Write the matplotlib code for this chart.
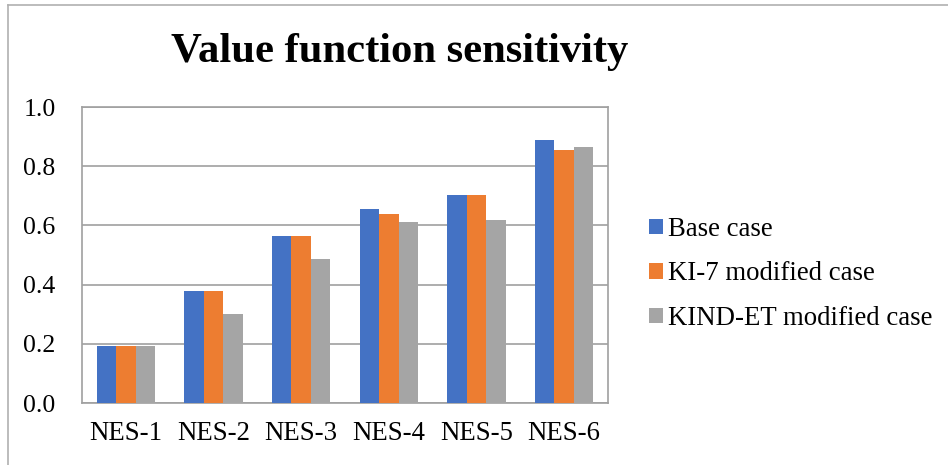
import matplotlib.pyplot as plt
from matplotlib.lines import Line2D
import numpy as np

categories = ['NES-1', 'NES-2', 'NES-3', 'NES-4', 'NES-5', 'NES-6']
base_case = [0.194, 0.378, 0.564, 0.655, 0.702, 0.887]
ki7_case = [0.194, 0.378, 0.564, 0.640, 0.702, 0.856]
kindet_case = [0.194, 0.300, 0.487, 0.613, 0.617, 0.864]
series_names = ['Base case', 'KI-7 modified case', 'KIND-ET modified case']

plt.rcParams['font.family'] = ['Liberation Serif', 'DejaVu Serif']

fig = plt.figure(figsize=(9.48, 4.65), dpi=100)
ax = fig.add_axes([82 / 948, 62 / 465, 526 / 948, 296 / 465])

colors = ['#4472C4', '#ED7D31', '#A5A5A5']
x = np.arange(len(categories))
w = 0.222
for i, (vals, name) in enumerate(zip([base_case, ki7_case, kindet_case], series_names)):
    ax.bar(x + (i - 1) * w, vals, width=w, color=colors[i], label=name, zorder=3)

ax.set_xlim(-0.5, len(categories) - 0.5)
ax.set_ylim(0, 1.0)
ax.set_yticks(np.arange(0, 1.01, 0.2))
ax.set_yticklabels([f'{v:.1f}' for v in np.arange(0, 1.01, 0.2)])
ax.set_xticks(x)
ax.set_xticklabels(categories)
ax.tick_params(axis='x', length=0, labelsize=19.3, pad=13)
ax.tick_params(axis='y', length=0, labelsize=18.5, pad=19)
ax.grid(axis='y', color='#a0a0a0', linewidth=1.2, zorder=0)
for s in ax.spines.values():
    s.set_color('#a0a0a0')
    s.set_linewidth(1.2)

fig.text(400 / 948, 1 - 62 / 465, 'Value function sensitivity', ha='center', va='baseline',
         fontsize=30.7, fontweight='bold')

ax.legend(loc='center left', bbox_to_anchor=(649 / 948, 1 - 274 / 465),
          bbox_transform=fig.transFigure, frameon=False, fontsize=19.3,
          handlelength=0.52, handleheight=0.52, handletextpad=0.2,
          labelspacing=0.73, borderpad=0, borderaxespad=0)

# outer chart border (left and top visible)
fig.add_artist(Line2D([8 / 948, 8 / 948], [0, 1 - 5 / 465], transform=fig.transFigure,
                      color='#b0b0b0', linewidth=1.2))
fig.add_artist(Line2D([8 / 948, 1], [1 - 5 / 465, 1 - 5 / 465], transform=fig.transFigure,
                      color='#b0b0b0', linewidth=1.2))

fig.savefig('out.png', dpi=100)
